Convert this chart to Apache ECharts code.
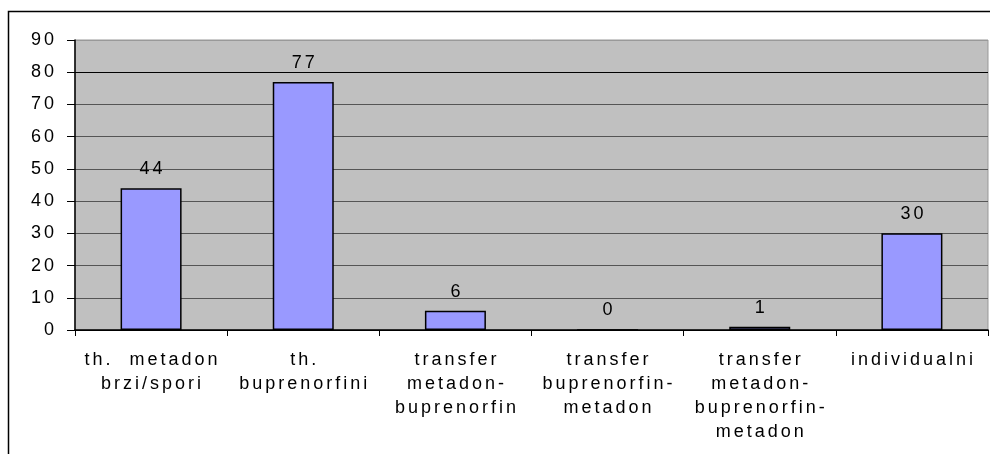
<!DOCTYPE html>
<html>
<head>
<meta charset="utf-8">
<script src="https://cdn.jsdelivr.net/npm/echarts@6/dist/echarts.min.js"></script>
<style>
  html, body { margin: 0; padding: 0; background: #fff; }
  #chart { width: 990px; height: 454px; }
</style>
</head>
<body>
<div id="chart"></div>
<script>
// categories and values
const categories = [
    'th.  metadon\nbrzi/spori',
    'th.\nbuprenorfini',
    'transfer\nmetadon-\nbuprenorfin',
    'transfer\nbuprenorfin-\nmetadon',
    'transfer\nmetadon-\nbuprenorfin-\nmetadon',
    'individualni'
];
const values = [44, 77, 6, 0, 1, 30];
const yTicks = [0, 10, 20, 30, 40, 50, 60, 70, 80, 90];

// gridline shades, one per tick (0..90)
const gridColors = ['#000', '#555', '#555', '#555', '#555', '#555', '#555', '#555', '#000', '#999'];

const font = 'Arial, "Liberation Sans", sans-serif';

// the original text is drawn with wide letter spacing
const SPACING = 3;
const origFillText = CanvasRenderingContext2D.prototype.fillText;
CanvasRenderingContext2D.prototype.fillText = function (txt, x, y, maxW) {
    this.letterSpacing = SPACING + 'px';
    // native spacing adds a gap after the last glyph too, shift to keep alignment
    if (this.textAlign === 'center') x += SPACING / 2;
    else if (this.textAlign === 'right' || this.textAlign === 'end') x += SPACING;
    const r = maxW === undefined ? origFillText.call(this, txt, x, y) : origFillText.call(this, txt, x, y, maxW);
    this.letterSpacing = '0px';
    return r;
};

var chart = echarts.init(document.getElementById('chart'), null, { renderer: 'canvas' });

chart.setOption({
    animation: false,
    backgroundColor: '#fff',
    graphic: [
        {
            type: 'rect',
            shape: { x: 8.5, y: 11.5, width: 1200, height: 800 },
            style: { fill: 'none', stroke: '#000', lineWidth: 1.5 },
            z: 100
        }
    ],
    grid: {
        left: 75,
        top: 40,
        right: 2,
        bottom: 124,
        show: true,
        backgroundColor: '#C0C0C0',
        borderColor: '#999',
        borderWidth: 1
    },
    xAxis: {
        type: 'category',
        data: categories,
        axisLine: { lineStyle: { color: '#000', width: 1.5 } },
        axisTick: { show: true, length: 6, lineStyle: { color: '#000' } },
        axisLabel: {
            color: '#000',
            fontSize: 18,
            fontFamily: font,
            lineHeight: 24,
            margin: 18,
            interval: 0
        },
        splitLine: { show: false }
    },
    yAxis: {
        type: 'value',
        min: yTicks[0],
        max: yTicks[yTicks.length - 1],
        interval: 10,
        axisLine: { show: true, lineStyle: { color: '#000', width: 1.5 } },
        axisTick: { show: true, length: 8, lineStyle: { color: '#000' } },
        axisLabel: {
            color: '#000',
            fontSize: 18,
            fontFamily: font,
            margin: 21
        },
        splitLine: { show: true, lineStyle: { color: gridColors, width: 1.2 } }
    },
    series: [
        {
            type: 'bar',
            data: values,
            barWidth: 61,
            itemStyle: { color: '#9999FF', borderColor: '#000', borderWidth: 1.5 },
            label: {
                show: true,
                position: 'top',
                distance: 10,
                color: '#000',
                fontSize: 18,
                fontFamily: font
            }
        }
    ]
});
</script>
</body>
</html>
